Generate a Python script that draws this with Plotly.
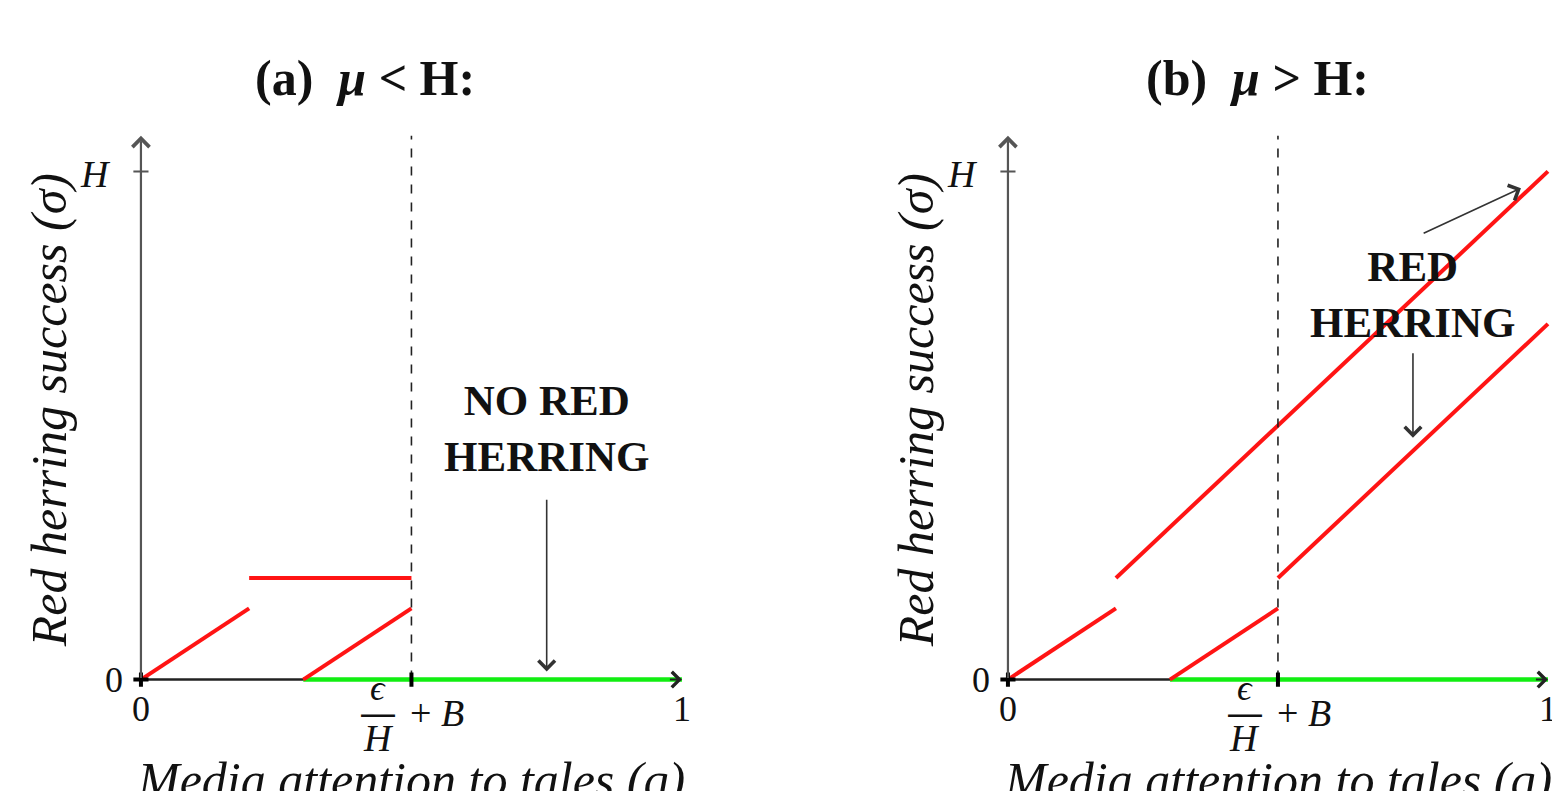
import plotly.graph_objects as go

# ---- data (in units of the axes: x = media attention q in [0,1], y = sigma / H) ----
threshold_q = 0.5                      # eps/H + B
a_red_x = [0, 0.2, None, 0.2, 0.5, None, 0.3, 0.5]
a_red_y = [0, 0.14, None, 0.2, 0.2, None, 0, 0.14]
b_red_x = [0, 0.2, None, 0.2, 1.0, None, 0.3, 0.5, None, 0.5, 1.0]
b_red_y = [0, 0.14, None, 0.2, 1.0, None, 0, 0.14, None, 0.2, 0.7]
green_x = [0.3, 1.0]
green_y = [0, 0]
titles = ["<b>(a)  <i>μ</i> &lt; H:</b>", "<b>(b)  <i>μ</i> &gt; H:</b>"]
y_label = "Red herring success (σ)"
x_label = "Media attention to tales (q)"
a_note = "<b>NO RED<br>HERRING</b>"
b_note = "<b>RED<br>HERRING</b>"

SERIF = "Liberation Serif"
W, H = 1552, 783
fig = go.Figure()

axes = [("x", "y", a_red_x, a_red_y), ("x2", "y2", b_red_x, b_red_y)]
for xr, yr, rx, ry in axes:
    fig.add_trace(go.Scatter(x=[0, 1], y=[0, 0], mode="lines", xaxis=xr, yaxis=yr,
                             line=dict(color="#222222", width=2.5), hoverinfo="skip"))
    fig.add_trace(go.Scatter(x=green_x, y=green_y, mode="lines", xaxis=xr, yaxis=yr,
                             line=dict(color="#11ee11", width=4.5), hoverinfo="skip"))
    fig.add_trace(go.Scatter(x=rx, y=ry, mode="lines", xaxis=xr, yaxis=yr, connectgaps=False,
                             line=dict(color="#ff1414", width=4), hoverinfo="skip"))

layout = dict(
    width=W, height=H, margin=dict(l=0, r=0, t=0, b=0),
    paper_bgcolor="white", plot_bgcolor="white", showlegend=False,
    font=dict(family=SERIF, color="#111111"),
)
xdoms = [[0.0508, 0.4691], [0.6095, 0.9992]]
xranges = [[-0.1, 1.1], [-0.1, 1.02]]
ydom = [0.0774, 0.8562]
for i, (xr, yr) in enumerate([("xaxis", "yaxis"), ("xaxis2", "yaxis2")]):
    layout[xr] = dict(domain=xdoms[i], range=xranges[i], visible=False, fixedrange=True,
                      anchor="y" if i == 0 else "y2")
    layout[yr] = dict(domain=ydom, range=[-0.1, 1.1], visible=False, fixedrange=True,
                      anchor="x" if i == 0 else "x2")
fig.update_layout(**layout)

title_x = [0.414, 0.463]
shapes = []
annots = []
for i, (xr, yr) in enumerate([("x", "y"), ("x2", "y2")]):
    # dashed threshold line
    shapes.append(dict(type="line", xref=xr, yref=yr, x0=threshold_q, x1=threshold_q, y0=0, y1=1.07,
                       line=dict(color="#222222", width=1.6, dash="dash")))
    # ticks
    shapes.append(dict(type="line", xref=xr, yref=yr, x0=threshold_q, x1=threshold_q, y0=-0.014, y1=0.014,
                       line=dict(color="black", width=4)))
    shapes.append(dict(type="line", xref=xr, yref=yr, x0=-0.014, x1=0.014, y0=0, y1=0,
                       line=dict(color="black", width=4)))
    shapes.append(dict(type="line", xref=xr, yref=yr, x0=0, x1=0, y0=-0.014, y1=0.014,
                       line=dict(color="black", width=4)))
    shapes.append(dict(type="line", xref=xr, yref=yr, x0=-0.014, x1=0.014, y0=1, y1=1,
                       line=dict(color="#555555", width=2)))
    # y axis with arrow
    annots.append(dict(xref=xr, yref=yr, axref=xr, ayref=yr, x=0, y=1.07, ax=0, ay=0, text="",
                       showarrow=True, arrowhead=4, arrowsize=1.5, arrowwidth=2.2, arrowcolor="#555555"))
    # x axis arrowhead
    annots.append(dict(xref=xr, yref=yr, axref=xr, ayref=yr, x=1.0, y=0, ax=0.975, ay=0, text="",
                       showarrow=True, arrowhead=4, arrowsize=1.5, arrowwidth=2, arrowcolor="#222222"))
    # tick labels
    annots.append(dict(xref=xr, yref=yr, x=0, y=0, xshift=-27, text="0", showarrow=False,
                       font=dict(size=36)))
    annots.append(dict(xref=xr, yref=yr, x=0, y=0, yshift=-29, text="0", showarrow=False,
                       font=dict(size=36)))
    annots.append(dict(xref=xr, yref=yr, x=1, y=0, yshift=-29, text="1", showarrow=False,
                       font=dict(size=36)))
    annots.append(dict(xref=xr, yref=yr, x=0, y=1, xshift=-45, yshift=-3, text="<i>H</i>", showarrow=False,
                       font=dict(size=38)))
    # fraction eps/H + B
    annots.append(dict(xref=xr, yref=yr, x=threshold_q, y=0, xshift=-33, yshift=-8, text="<i>ϵ</i>",
                       showarrow=False, font=dict(size=36)))
    annots.append(dict(xref=xr, yref=yr, x=threshold_q, y=0, xshift=-33, yshift=-33, text="―",
                       showarrow=False, font=dict(size=34, family="DejaVu Sans")))
    annots.append(dict(xref=xr, yref=yr, x=threshold_q, y=0, xshift=-33, yshift=-58, text="<i>H</i>",
                       showarrow=False, font=dict(size=38)))
    annots.append(dict(xref=xr, yref=yr, x=threshold_q, y=0, xshift=26, yshift=-33, text="+ <i>B</i>",
                       showarrow=False, font=dict(size=38)))
    # axis titles
    annots.append(dict(xref=xr, yref=yr, x=0, y=0.53, xshift=-92, text="<i>" + y_label + "</i>",
                       textangle=-90, showarrow=False, font=dict(size=50)))
    annots.append(dict(xref=xr, yref=yr, x=0.5, y=0, yshift=-100, text="<i>" + x_label + "</i>",
                       showarrow=False, font=dict(size=50)))
    # panel title
    annots.append(dict(xref=xr, yref="paper", x=title_x[i], y=(H - 70) / H, yanchor="middle",
                       text=titles[i], showarrow=False, font=dict(size=50)))

# notes and arrows
annots.append(dict(xref="x", yref="y", x=0.75, y=0.495, text=a_note, showarrow=False,
                   font=dict(size=43), align="center"))
annots.append(dict(xref="x", yref="y", axref="x", ayref="y", x=0.75, y=0.016, ax=0.75, ay=0.357,
                   text="", showarrow=True, arrowhead=4, arrowsize=2, arrowwidth=1.6, arrowcolor="#333333"))
annots.append(dict(xref="x2", yref="y2", x=0.75, y=0.758, text=b_note, showarrow=False,
                   font=dict(size=43), align="center"))
annots.append(dict(xref="x2", yref="y2", axref="x2", ayref="y2", x=0.95, y=0.967, ax=0.767, ay=0.877,
                   text="", showarrow=True, arrowhead=4, arrowsize=2, arrowwidth=1.6, arrowcolor="#333333"))
annots.append(dict(xref="x2", yref="y2", axref="x2", ayref="y2", x=0.75, y=0.476, ax=0.75, ay=0.645,
                   text="", showarrow=True, arrowhead=4, arrowsize=2, arrowwidth=1.6, arrowcolor="#333333"))

fig.update_layout(shapes=shapes, annotations=annots)
fig.write_html("out.html")
